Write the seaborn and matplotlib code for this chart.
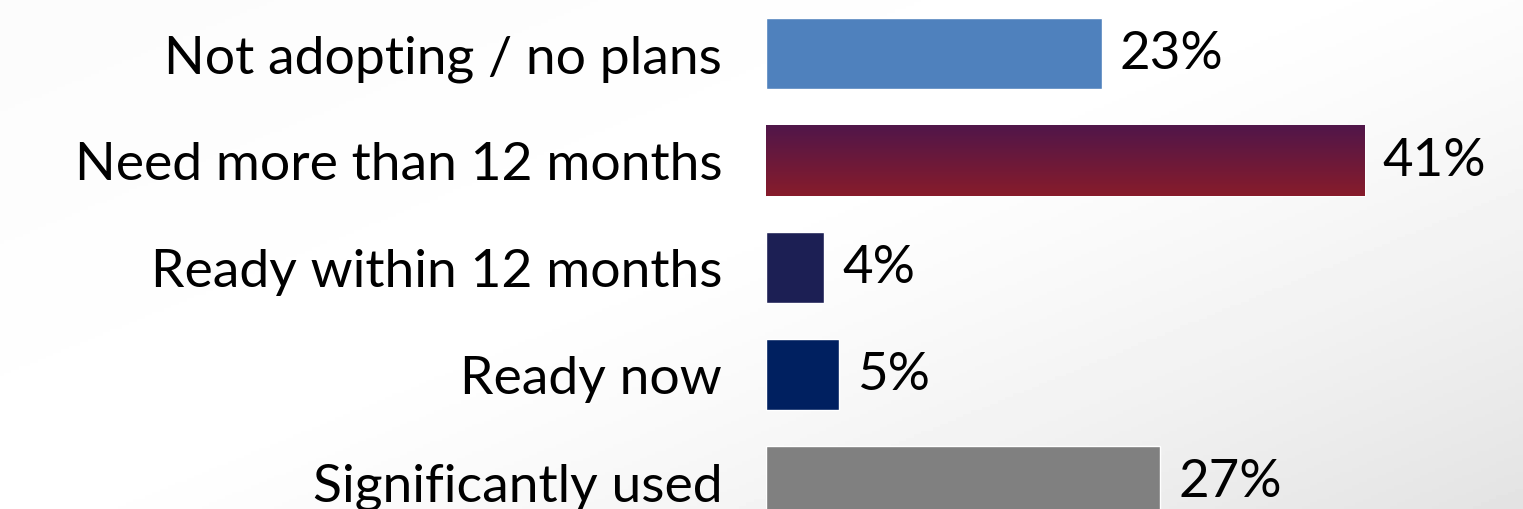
import seaborn as sns
import numpy as np
import pandas as pd
import matplotlib.pyplot as plt
from matplotlib.colors import LinearSegmentedColormap

# Data
categories = ['Not adopting / no plans', 'Need more than 12 months',
              'Ready within 12 months', 'Ready now', 'Significantly used']
values = [23, 41, 4, 5, 27]
bar_colors = ['#4f81bd', '#6a1a3c', '#1c1f54', '#002060', '#808080']

df = pd.DataFrame({'category': categories, 'pct': values})

sns.set_theme(style='white')
plt.rcParams['font.family'] = ['Lato', 'DejaVu Sans']

W, H = 1523, 510
fig = plt.figure(figsize=(W / 100, H / 100), dpi=100)

# background: soft diagonal white -> light grey
bg = fig.add_axes([0, 0, 1, 1], zorder=0)
xx, yy = np.meshgrid(np.linspace(0, 1, 400), np.linspace(0, 1, 150))
u = 0.55 * xx + 0.45 * yy
shade = np.where(u < 0.45, 0.985 + 0.015 * (u / 0.45),
                 1.0 - 0.11 * np.clip((u - 0.45) / 0.55, 0, 1) ** 1.3)
bg.imshow(shade, cmap='gray', vmin=0, vmax=1, aspect='auto', extent=[0, 1, 1, 0])
bg.set_xlim(0, 1)
bg.set_ylim(1, 0)
bg.axis('off')

left = 766 / W
ax = fig.add_axes([left, 0, 1 - left, 1], zorder=1)
ax.patch.set_alpha(0)

sns.barplot(data=df, x='pct', y='category', hue='category', palette=bar_colors,
            orient='h', width=0.664, legend=False, saturation=1, ax=ax)

px_per_pct = 14.6
xmax = (W - 766) / px_per_pct
ylims = ((H - 54.5) / 107, -54.5 / 107)

# gradient fill for the highlighted bar
grad = LinearSegmentedColormap.from_list('g', ['#50164a', '#871c2b'])
p = ax.patches[1]
x0, y0, w, h = p.get_x(), p.get_y(), p.get_width(), p.get_height()
im = ax.imshow(np.linspace(0, 1, 100).reshape(-1, 1), cmap=grad, aspect='auto',
               extent=[x0, x0 + w, y0 + h, y0], zorder=3)
im.set_clip_path(p)
ax.set_xlim(0, xmax)
ax.set_ylim(*ylims)

for i, v in enumerate(values):
    ax.annotate(f'{v}%', (v, i), xytext=(13, 0), textcoords='offset points',
                ha='left', va='center', fontsize=38, color='black')

ax.set_xlabel('')
ax.set_ylabel('')
ax.set_xticks([])
ax.tick_params(axis='y', length=0, pad=31.5, labelsize=38.5, labelcolor='black')
sns.despine(ax=ax, left=True, bottom=True)

fig.savefig('out.png', dpi=100)
